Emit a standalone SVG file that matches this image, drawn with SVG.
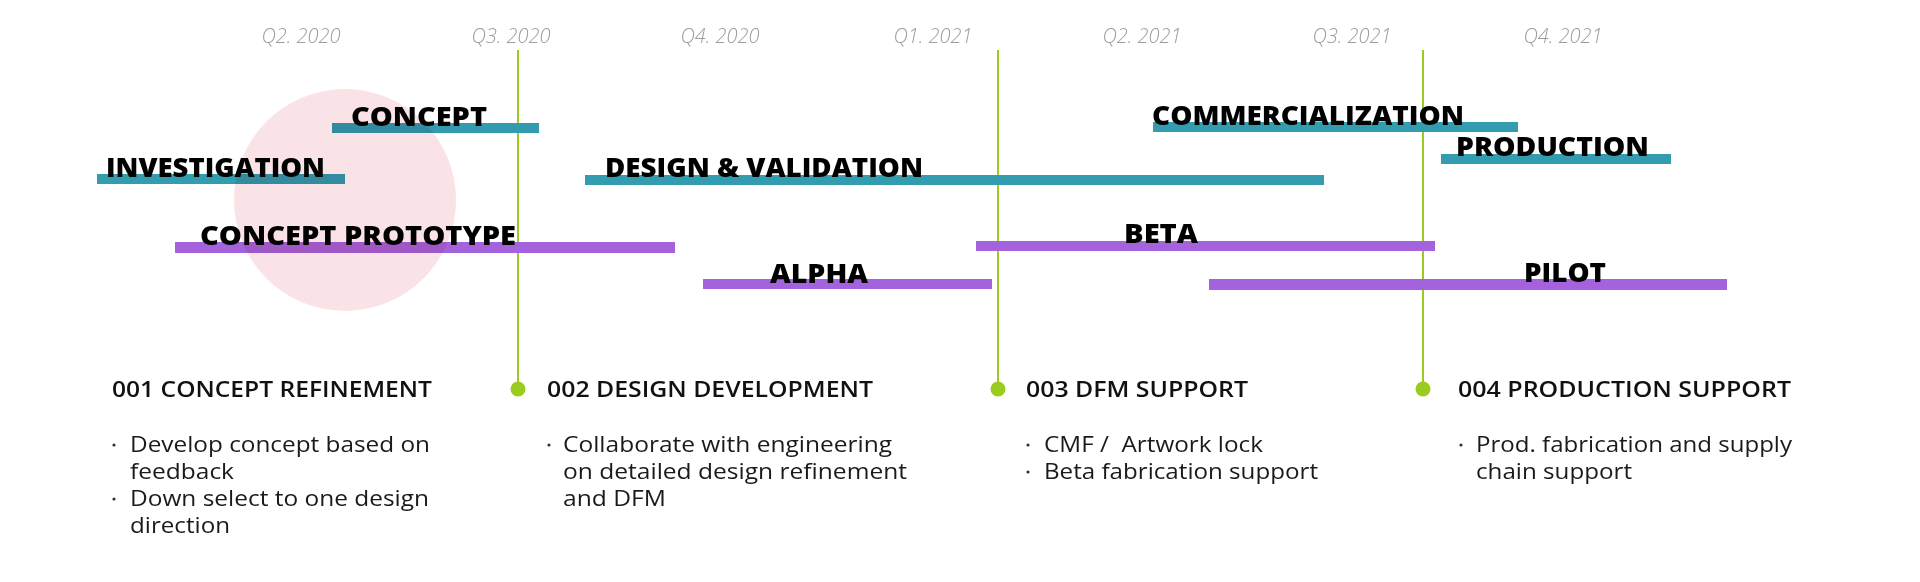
<svg xmlns="http://www.w3.org/2000/svg" width="1920" height="582" viewBox="0 0 1920 582">
<style>
.q{font-family:"Open Sans","Liberation Sans",sans-serif;font-style:italic;font-weight:300;font-size:20px;fill:#9c9c9c;text-anchor:middle}
.lbl{font-family:"Open Sans","Liberation Sans",sans-serif;font-weight:800;font-size:27px;fill:#000}
.hd{font-family:"Open Sans","Liberation Sans",sans-serif;font-weight:600;font-size:21px;fill:#111}
.tx{font-family:"Open Sans","Liberation Sans",sans-serif;font-weight:400;font-size:21px;fill:#1a1a1a}
.teal{fill:#339cae}
.purple{fill:#a463dc}
.gl{stroke:#99cc1f;stroke-width:2;fill:none}
.dot{fill:#99cc1f}
.bul{fill:#333}
</style>
<rect width="1920" height="582" fill="#fff"/>
<g id="axis">
<text class="q" x="301" y="43">Q2. 2020</text>
<text class="q" x="511" y="43">Q3. 2020</text>
<text class="q" x="720" y="43">Q4. 2020</text>
<text class="q" x="933" y="43">Q1. 2021</text>
<text class="q" x="1142" y="43">Q2. 2021</text>
<text class="q" x="1352" y="43">Q3. 2021</text>
<text class="q" x="1563" y="43">Q4. 2021</text>
</g>
<g id="connectors">
<line class="gl" x1="518" y1="50" x2="518" y2="389"/>
<line class="gl" x1="998" y1="50" x2="998" y2="389"/>
<line class="gl" x1="1423" y1="50" x2="1423" y2="389"/>
</g>
<g id="concept"><rect class="teal" x="332" y="123" width="207" height="10"/><text class="lbl" x="351" y="126" textLength="136" lengthAdjust="spacingAndGlyphs">CONCEPT</text></g>
<g id="investigation"><rect class="teal" x="97" y="174" width="248" height="10"/><text class="lbl" x="106" y="177" textLength="219" lengthAdjust="spacingAndGlyphs">INVESTIGATION</text></g>
<g id="design-validation"><rect class="teal" x="585" y="175" width="739" height="10"/><text class="lbl" x="605" y="177" textLength="318" lengthAdjust="spacingAndGlyphs">DESIGN &amp; VALIDATION</text></g>
<g id="commercialization"><rect class="teal" x="1153" y="122" width="365" height="10"/><text class="lbl" x="1152" y="125" textLength="312" lengthAdjust="spacingAndGlyphs">COMMERCIALIZATION</text></g>
<g id="production"><rect class="teal" x="1441" y="154" width="230" height="10"/><text class="lbl" x="1456" y="156" textLength="193" lengthAdjust="spacingAndGlyphs">PRODUCTION</text></g>
<g id="concept-prototype"><rect class="purple" x="175" y="242" width="500" height="11"/><text class="lbl" x="200" y="245" textLength="316" lengthAdjust="spacingAndGlyphs">CONCEPT PROTOTYPE</text></g>
<g id="alpha"><rect class="purple" x="703" y="279" width="289" height="10"/><text class="lbl" x="770" y="283" textLength="98" lengthAdjust="spacingAndGlyphs">ALPHA</text></g>
<g id="beta"><rect class="purple" x="976" y="241" width="459" height="10"/><text class="lbl" x="1124" y="243" textLength="74" lengthAdjust="spacingAndGlyphs">BETA</text></g>
<g id="pilot"><rect class="purple" x="1209" y="279" width="518" height="11"/><text class="lbl" x="1524" y="282" textLength="82" lengthAdjust="spacingAndGlyphs">PILOT</text></g>
<circle id="highlight" cx="345" cy="200" r="111" fill="#fae3e7" style="mix-blend-mode:multiply"/>
<g id="m002"><circle class="dot" cx="518" cy="389" r="7.5"/></g>
<g id="m003"><circle class="dot" cx="998" cy="389" r="7.5"/></g>
<g id="m004"><circle class="dot" cx="1423" cy="389" r="7.5"/></g>
<g id="phase-001">
<text class="hd" x="112" y="397" textLength="320" lengthAdjust="spacingAndGlyphs">001 CONCEPT REFINEMENT</text>
<circle class="bul" cx="114" cy="445" r="1.6"/>
<text class="tx" x="130" y="452" textLength="300" lengthAdjust="spacingAndGlyphs">Develop concept based on</text>
<text class="tx" x="130" y="479" textLength="104" lengthAdjust="spacingAndGlyphs">feedback</text>
<circle class="bul" cx="114" cy="499" r="1.6"/>
<text class="tx" x="130" y="506" textLength="299" lengthAdjust="spacingAndGlyphs">Down select to one design</text>
<text class="tx" x="130" y="533" textLength="100" lengthAdjust="spacingAndGlyphs">direction</text>
</g>
<g id="phase-002">
<text class="hd" x="547" y="397" textLength="326" lengthAdjust="spacingAndGlyphs">002 DESIGN DEVELOPMENT</text>
<circle class="bul" cx="549" cy="445" r="1.6"/>
<text class="tx" x="563" y="452" textLength="329" lengthAdjust="spacingAndGlyphs">Collaborate with engineering</text>
<text class="tx" x="563" y="479" textLength="344" lengthAdjust="spacingAndGlyphs">on detailed design refinement</text>
<text class="tx" x="563" y="506" textLength="103" lengthAdjust="spacingAndGlyphs">and DFM</text>
</g>
<g id="phase-003">
<text class="hd" x="1026" y="397" textLength="222" lengthAdjust="spacingAndGlyphs">003 DFM SUPPORT</text>
<circle class="bul" cx="1028" cy="445" r="1.6"/>
<text class="tx" x="1044" y="452" textLength="219" lengthAdjust="spacingAndGlyphs" xml:space="preserve">CMF /  Artwork lock</text>
<circle class="bul" cx="1028" cy="472" r="1.6"/>
<text class="tx" x="1044" y="479" textLength="274" lengthAdjust="spacingAndGlyphs">Beta fabrication support</text>
</g>
<g id="phase-004">
<text class="hd" x="1458" y="397" textLength="333" lengthAdjust="spacingAndGlyphs">004 PRODUCTION SUPPORT</text>
<circle class="bul" cx="1461" cy="445" r="1.6"/>
<text class="tx" x="1476" y="452" textLength="316" lengthAdjust="spacingAndGlyphs">Prod. fabrication and supply</text>
<text class="tx" x="1476" y="479" textLength="156" lengthAdjust="spacingAndGlyphs">chain support</text>
</g>
</svg>
